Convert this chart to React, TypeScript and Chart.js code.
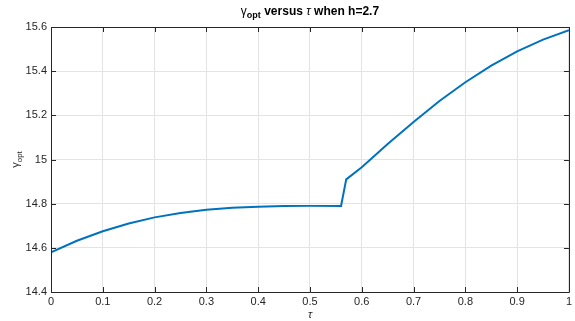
import React, { useEffect, useRef } from "react";
import { Chart, registerables } from "chart.js";

Chart.register(...registerables);

const tauValues = [0, 0.05, 0.1, 0.15, 0.2, 0.25, 0.3, 0.35, 0.4, 0.45, 0.5, 0.56, 0.57, 0.6, 0.65, 0.7, 0.75, 0.8, 0.85, 0.9, 0.95, 1.0];
const gammaValues = [14.58, 14.632, 14.675, 14.71, 14.738, 14.758, 14.772, 14.781, 14.786, 14.789, 14.79, 14.79, 14.91, 14.965, 15.07, 15.17, 15.265, 15.35, 15.425, 15.49, 15.543, 15.585];
const xTicks = [0, 0.1, 0.2, 0.3, 0.4, 0.5, 0.6, 0.7, 0.8, 0.9, 1];
const yTicks = [14.4, 14.6, 14.8, 15, 15.2, 15.4, 15.6];

const FONT = '"Liberation Sans", Arial, Helvetica, sans-serif';
const AXIS = "#262626";

const decorPlugin = {
  id: "decor",
  afterDraw(chart: any) {
    const ctx = chart.ctx as CanvasRenderingContext2D;
    const { left, right, top, bottom } = chart.chartArea;
    const xs = chart.scales.x;
    const ys = chart.scales.y;
    ctx.save();
    ctx.strokeStyle = AXIS;
    ctx.lineWidth = 1;
    ctx.beginPath();
    ctx.rect(Math.round(left) + 0.5, Math.round(top) + 0.5, Math.round(right - left), Math.round(bottom - top));
    ctx.stroke();
    const tl = 5;
    ctx.beginPath();
    xTicks.forEach((v) => {
      const px = Math.round(xs.getPixelForValue(v)) + 0.5;
      ctx.moveTo(px, bottom);
      ctx.lineTo(px, bottom - tl);
      ctx.moveTo(px, top);
      ctx.lineTo(px, top + tl);
    });
    yTicks.forEach((v) => {
      const py = Math.round(ys.getPixelForValue(v)) + 0.5;
      ctx.moveTo(left, py);
      ctx.lineTo(left + tl, py);
      ctx.moveTo(right, py);
      ctx.lineTo(right - tl, py);
    });
    ctx.stroke();

    // title
    ctx.fillStyle = "#000";
    ctx.textBaseline = "alphabetic";
    const parts: [string, string, number][] = [
      ["γ", `12px ${FONT}`, 0],
      ["opt", `bold 9px ${FONT}`, 3],
      [" versus ", `bold 12px ${FONT}`, 0],
      ["τ", `italic 12px ${FONT}`, 0],
      [" when h=2.7", `bold 12px ${FONT}`, 0],
    ];
    let total = 0;
    parts.forEach(([t, f]) => {
      ctx.font = f;
      total += ctx.measureText(t).width;
    });
    let x = (left + right) / 2 - total / 2;
    const baseY = 15;
    parts.forEach(([t, f, dy]) => {
      ctx.font = f;
      ctx.textAlign = "left";
      ctx.fillText(t, x, baseY + dy);
      x += ctx.measureText(t).width;
    });

    // x label
    ctx.font = `italic 11px ${FONT}`;
    ctx.fillStyle = AXIS;
    ctx.textAlign = "center";
    ctx.fillText("τ", (left + right) / 2, 318);

    // y label
    ctx.save();
    ctx.translate(19, (top + bottom) / 2);
    ctx.rotate(-Math.PI / 2);
    const yp: [string, string, number][] = [
      ["γ", `11px ${FONT}`, 0],
      ["opt", `8px ${FONT}`, 3],
    ];
    let yt = 0;
    yp.forEach(([t, f]) => {
      ctx.font = f;
      yt += ctx.measureText(t).width;
    });
    let yx = -yt / 2;
    ctx.textAlign = "left";
    yp.forEach(([t, f, dy]) => {
      ctx.font = f;
      ctx.fillText(t, yx, dy);
      yx += ctx.measureText(t).width;
    });
    ctx.restore();
    ctx.restore();
  },
};

export default function App() {
  const ref = useRef<HTMLCanvasElement>(null);
  useEffect(() => {
    if (!ref.current) return;
    const chart = new Chart(ref.current, {
      type: "scatter",
      data: {
        datasets: [
          {
            data: tauValues.map((t, i) => ({ x: t, y: gammaValues[i] })),
            showLine: true,
            borderColor: "#0072BD",
            backgroundColor: "#0072BD",
            borderWidth: 2,
            pointRadius: 0,
            tension: 0,
          },
        ],
      },
      options: {
        animation: false,
        responsive: false,
        maintainAspectRatio: false,
        layout: { padding: { top: 27, right: 5, left: 0, bottom: 0 } },
        plugins: { legend: { display: false }, tooltip: { enabled: false }, title: { display: false } },
        scales: {
          x: {
            type: "linear",
            min: 0,
            max: 1,
            afterBuildTicks: (s: any) => {
              s.ticks = xTicks.map((v) => ({ value: v }));
            },
            afterFit: (s: any) => {
              s.height = 29;
            },
            grid: { color: "#e3e3e3", drawTicks: false, lineWidth: 1 },
            border: { display: false },
            ticks: {
              color: AXIS,
              font: { family: FONT, size: 11 },
              padding: 3,
              maxRotation: 0,
              callback: (v: any) => String(Number(v)),
            },
          },
          y: {
            type: "linear",
            min: 14.4,
            max: 15.6,
            afterBuildTicks: (s: any) => {
              s.ticks = yTicks.map((v) => ({ value: v }));
            },
            afterFit: (s: any) => {
              s.width = 51;
            },
            grid: { color: "#e3e3e3", drawTicks: false, lineWidth: 1 },
            border: { display: false },
            ticks: {
              color: AXIS,
              font: { family: FONT, size: 11 },
              padding: 4,
              callback: (v: any) => String(Number(Number(v).toFixed(1))),
            },
          },
        },
      },
      plugins: [decorPlugin],
    });
    return () => chart.destroy();
  }, []);
  return (
    <div style={{ position: "absolute", left: 0, top: 0, width: 575, height: 321, background: "#fff" }}>
      <canvas ref={ref} width={575} height={321} style={{ width: 575, height: 321 }} />
    </div>
  );
}
